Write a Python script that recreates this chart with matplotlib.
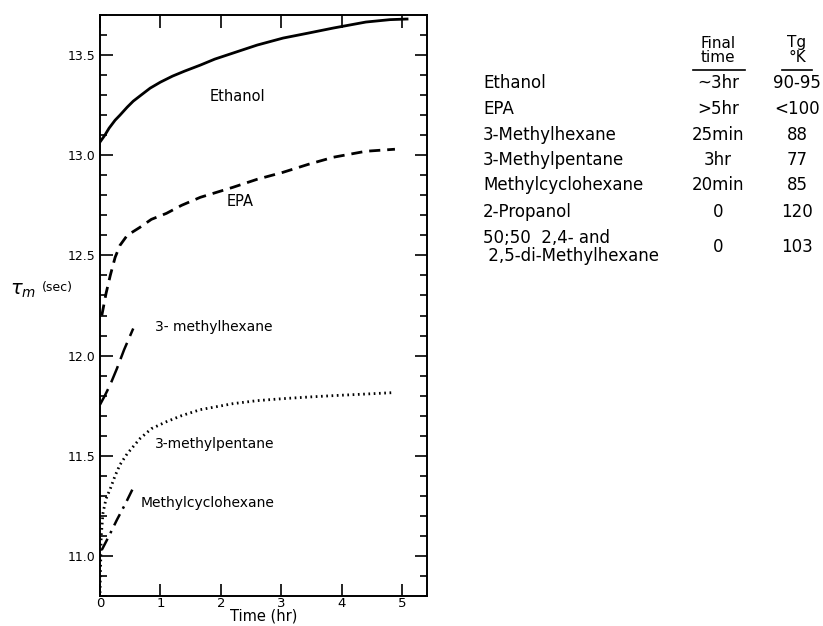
import matplotlib
matplotlib.use("Agg")
import matplotlib.pyplot as plt
from matplotlib.ticker import MultipleLocator, FormatStrFormatter

plt.rcParams['font.family'] = ['DejaVu Sans']

# curves: time (hr), tau_m (sec)
ethanol_t = [0.0, 0.08, 0.15, 0.25, 0.33, 0.45, 0.55, 0.7, 0.83, 1.0, 1.2, 1.4, 1.66, 1.9, 2.2, 2.6, 3.03, 3.45, 3.86, 4.4, 4.8, 5.08]
ethanol_y = [13.066, 13.1, 13.135, 13.175, 13.2, 13.24, 13.27, 13.305, 13.335, 13.365, 13.395, 13.42, 13.45, 13.48, 13.51, 13.55, 13.585, 13.61, 13.635, 13.665, 13.677, 13.68]

epa_t = [0.03, 0.1, 0.17, 0.25, 0.33, 0.45, 0.66, 0.85, 1.1, 1.35, 1.66, 2.2, 2.6, 3.03, 3.45, 3.86, 4.4, 4.88]
epa_y = [12.2, 12.31, 12.4, 12.49, 12.55, 12.6, 12.64, 12.68, 12.71, 12.75, 12.79, 12.84, 12.88, 12.915, 12.955, 12.99, 13.02, 13.03]

mhex_t = [0.0, 0.08, 0.17, 0.28, 0.4, 0.55]
mhex_y = [11.755, 11.8, 11.855, 11.935, 12.03, 12.135]

mpent_t = [0.0, 0.01, 0.02, 0.05, 0.1, 0.17, 0.25, 0.33, 0.45, 0.66, 0.85, 1.1, 1.35, 1.66, 2.2, 2.6, 3.03, 3.45, 3.86, 4.4, 4.85]
mpent_y = [10.815, 10.95, 11.1, 11.215, 11.285, 11.335, 11.4, 11.455, 11.51, 11.585, 11.635, 11.67, 11.7, 11.73, 11.76, 11.775, 11.785, 11.793, 11.8, 11.808, 11.815]

mcyc_t = [0.03, 0.15, 0.28, 0.42, 0.55]
mcyc_y = [11.03, 11.1, 11.18, 11.26, 11.34]

# table on the right
solvents = ["Ethanol", "EPA", "3-Methylhexane", "3-Methylpentane",
            "Methylcyclohexane", "2-Propanol", "50;50  2,4- and\n 2,5-di-Methylhexane"]
final_time = ["~3hr", ">5hr", "25min", "3hr", "20min", "0", "0"]
tg_kelvin = ["90-95", "<100", "88", "77", "85", "120", "103"]

fig = plt.figure(figsize=(8.23, 6.26), dpi=100)
ax = fig.add_axes([0.1215, 0.048, 0.3973, 0.928])

ax.plot(ethanol_t, ethanol_y, color='black', lw=2.0, ls='-')
ax.plot(epa_t, epa_y, color='black', lw=2.0, ls=(0, (4, 2.5)))
ax.plot(mhex_t, mhex_y, color='black', lw=1.8, ls=(0, (7, 3)))
ax.plot(mpent_t, mpent_y, color='black', lw=2.0, ls=(0, (0.6, 1.3)))
ax.plot(mcyc_t, mcyc_y, color='black', lw=1.8, ls=(0, (5, 2.5, 1, 2.5)))

ax.text(2.27, 13.295, "Ethanol", fontsize=10.5, ha='center', va='center')
ax.text(2.32, 12.77, "EPA", fontsize=10.5, ha='center', va='center')
ax.text(0.91, 12.145, "3- methylhexane", fontsize=10, ha='left', va='center')
ax.text(0.91, 11.56, "3-methylpentane", fontsize=10, ha='left', va='center')
ax.text(0.68, 11.265, "Methylcyclohexane", fontsize=10, ha='left', va='center')

ax.set_xlim(0, 5.41)
ax.set_ylim(10.8, 13.7)
ax.xaxis.set_major_locator(MultipleLocator(1))
ax.yaxis.set_major_locator(MultipleLocator(0.5))
ax.yaxis.set_minor_locator(MultipleLocator(0.1))
ax.yaxis.set_major_formatter(FormatStrFormatter('%.1f'))
ax.tick_params(which='both', direction='in', top=True, right=True, labelsize=9, width=1.2)
ax.tick_params(which='major', length=9)
ax.tick_params(which='minor', length=5)
ax.tick_params(axis='x', pad=1, labelsize=9.5)
for s in ax.spines.values():
    s.set_linewidth(1.4)

ax.set_xlabel("Time (hr)", fontsize=10.5, labelpad=-1)
fig.text(10 / 823, 1 - 291 / 626, r"$\tau_m$", fontsize=14, ha='left', va='center')
fig.text(42 / 823, 1 - 288 / 626, "(sec)", fontsize=9, ha='left', va='center')

# table
W, H = 823, 626
fig.text(718 / W, 1 - 43 / H, "Final", fontsize=11, ha='center', va='center')
fig.text(718 / W, 1 - 58 / H, "time", fontsize=11, ha='center', va='center')
fig.text(797 / W, 1 - 43 / H, "Tg", fontsize=11, ha='center', va='center')
fig.text(797 / W, 1 - 58 / H, "°K", fontsize=11, ha='center', va='center')
fig.add_artist(plt.Line2D([693 / W, 745 / W], [1 - 70 / H, 1 - 70 / H], color='black', lw=1.2))
fig.add_artist(plt.Line2D([782 / W, 812 / W], [1 - 70 / H, 1 - 70 / H], color='black', lw=1.2))

row_y = [83, 109, 135, 160, 185, 212, 247]
for name, ft, tg, ry in zip(solvents, final_time, tg_kelvin, row_y):
    fig.text(483 / W, 1 - ry / H, name, fontsize=12, ha='left', va='center', linespacing=0.95)
    fig.text(718 / W, 1 - ry / H, ft, fontsize=12, ha='center', va='center')
    fig.text(797 / W, 1 - ry / H, tg, fontsize=12, ha='center', va='center')

fig.savefig("out.png", dpi=100)
